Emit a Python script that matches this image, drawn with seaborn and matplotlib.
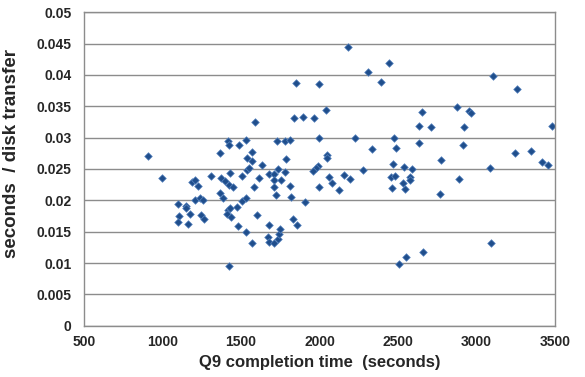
import seaborn as sns
import matplotlib.pyplot as plt
import pandas as pd

# Q9 completion time (s) and seconds per disk transfer
completion_time = [
    908, 999, 1097, 1107, 1099, 1152, 1152, 1175, 1160, 1190,
    1205, 1224, 1205, 1241, 1260, 1245, 1266, 1306, 1366, 1374,
    1398, 1366, 1385, 1430, 1423, 1447, 1415, 1430, 1409, 1436,
    1472, 1504, 1506, 1479, 1423, 1532, 1534, 1570, 1538, 1538,
    1551, 1570, 1570, 1583, 1604, 1617, 1632, 1676, 1676, 1674,
    1676, 1710, 1710, 1710, 1710, 1725, 1734, 1734, 1744, 1748,
    1757, 1778, 1785, 1812, 1816, 1829, 1854, 1908, 1419, 1425,
    1485, 1532, 1587, 1727, 1778, 1810, 1837, 1848, 1895, 1965,
    1997, 2041, 2181, 2309, 2392, 2443, 2634, 2653, 2710, 2876,
    2920, 2952, 2965, 3105, 3258, 3481, 1997, 2226, 2474, 2334,
    2487, 2634, 2914, 2048, 2048, 2774, 3245, 3347, 3417, 3455,
    2468, 2538, 2589, 3086, 2277, 1990, 1978, 1958, 2060, 2156,
    2194, 2455, 2481, 2576, 2888, 2080, 1997, 2124, 2532, 2576,
    2462, 2544, 2767, 3092, 2506, 2551, 2659,
]
sec_per_transfer = [
    0.0271, 0.0235, 0.0194, 0.0175, 0.0166, 0.0191, 0.0188, 0.0178, 0.0163, 0.0229,
    0.0233, 0.0223, 0.0200, 0.0204, 0.0200, 0.0176, 0.0171, 0.0239, 0.0275, 0.0235,
    0.0231, 0.0211, 0.0204, 0.0243, 0.0224, 0.0221, 0.0185, 0.0187, 0.0179, 0.0173,
    0.0189, 0.0239, 0.0199, 0.0159, 0.0095, 0.0203, 0.0149, 0.0132, 0.0268, 0.0248,
    0.0251, 0.0277, 0.0263, 0.0222, 0.0177, 0.0236, 0.0257, 0.0242, 0.0161, 0.0142,
    0.0134, 0.0242, 0.0232, 0.0222, 0.0132, 0.0209, 0.0250, 0.0139, 0.0146, 0.0155,
    0.0233, 0.0246, 0.0266, 0.0223, 0.0205, 0.0170, 0.0161, 0.0197, 0.0294, 0.0288,
    0.0289, 0.0296, 0.0325, 0.0295, 0.0295, 0.0296, 0.0331, 0.0388, 0.0333, 0.0331,
    0.0386, 0.0344, 0.0445, 0.0405, 0.0389, 0.0419, 0.0319, 0.0341, 0.0317, 0.0349,
    0.0317, 0.0343, 0.0339, 0.0398, 0.0378, 0.0319, 0.0300, 0.0300, 0.0300, 0.0282,
    0.0284, 0.0291, 0.0288, 0.0272, 0.0268, 0.0264, 0.0276, 0.0279, 0.0261, 0.0256,
    0.0258, 0.0253, 0.0250, 0.0252, 0.0248, 0.0255, 0.0252, 0.0247, 0.0237, 0.0240,
    0.0234, 0.0237, 0.0239, 0.0237, 0.0234, 0.0227, 0.0221, 0.0216, 0.0227, 0.0232,
    0.0220, 0.0218, 0.0210, 0.0132, 0.0098, 0.0109, 0.0117,
]
x_ticks = [500, 1000, 1500, 2000, 2500, 3000, 3500]
y_ticks = [0, 0.005, 0.01, 0.015, 0.02, 0.025, 0.03, 0.035, 0.04, 0.045, 0.05]
y_tick_labels = ['0', '0.005', '0.01', '0.015', '0.02', '0.025', '0.03',
                 '0.035', '0.04', '0.045', '0.05']

df = pd.DataFrame({'time': completion_time, 'spt': sec_per_transfer})

sns.set_style('white')
plt.rcParams['font.family'] = ['Liberation Sans', 'DejaVu Sans']
plt.rcParams['font.weight'] = 'bold'

fig = plt.figure(figsize=(5.85, 3.77), dpi=100)
ax = fig.add_axes([84 / 585, 1 - 325.7 / 377, 471 / 585, 313.4 / 377])

sns.scatterplot(data=df, x='time', y='spt', marker='D', s=15,
                color='#1F4E8C', edgecolor='#5B86C0', linewidth=0.5, ax=ax)

ax.set_xlim(500, 3500)
ax.set_ylim(0, 0.05)
ax.set_xticks(x_ticks)
ax.set_xticklabels([str(t) for t in x_ticks], fontsize=10, fontweight='bold')
ax.set_yticks(y_ticks)
ax.set_yticklabels(y_tick_labels, fontsize=10, fontweight='bold')
ax.yaxis.grid(True, color='#8c8c8c', linewidth=1)
ax.set_axisbelow(True)
for sp in ax.spines.values():
    sp.set_color('#8c8c8c')
    sp.set_linewidth(1)
ax.tick_params(axis='x', length=0, pad=7)
ax.tick_params(axis='y', length=0, pad=9)

ax.set_xlabel('Q9 completion time  (seconds)', fontsize=12, fontweight='bold', labelpad=4)
ax.set_ylabel('seconds  / disk transfer', fontsize=13.5, fontweight='bold')
ax.yaxis.set_label_coords(-0.135, 0.55)

plt.savefig('out.png', dpi=100)
